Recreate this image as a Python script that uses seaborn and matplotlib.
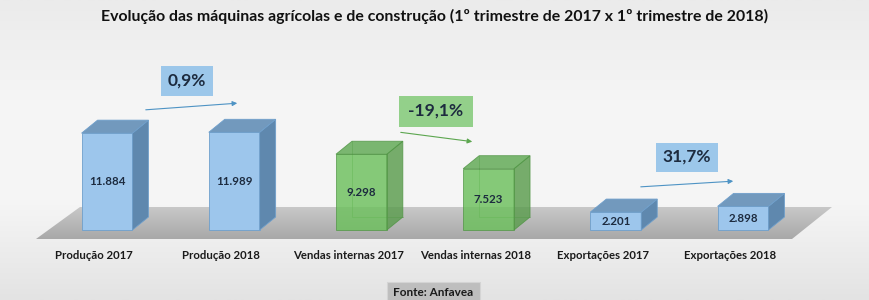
import numpy as np
import matplotlib.pyplot as plt
import seaborn as sns
from matplotlib.colors import LinearSegmentedColormap
from matplotlib.patches import Polygon, Rectangle, FancyArrowPatch
from matplotlib.transforms import ScaledTranslation

# data
categories = ['Produção 2017', 'Produção 2018', 'Vendas internas 2017',
              'Vendas internas 2018', 'Exportações 2017', 'Exportações 2018']
values = [11884, 11989, 9298, 7523, 2201, 2898]
groups = ['blue', 'blue', 'green', 'green', 'blue', 'blue']
pairs = [(0, 1), (2, 3), (4, 5)]
title = 'Evolução das máquinas agrícolas e de construção (1º trimestre de 2017 x 1º trimestre de 2018)'
source = 'Fonte: Anfavea'

# styles
styles = {
    'blue': dict(front='#9dc6ec', top='#7299bd', side='#5f88ae', edge='#6f9fcb', alpha=1.0,
                 box='#9cc7ea', arrow='#4e93c4'),
    'green': dict(front='#6cc05c', top='#5fa953', side='#5a9c4d', edge='#4f9443', alpha=0.82,
                  box='#93d08a', arrow='#5ca64f'),
}
txt_dark = '#1d2b3f'

# layout (pixels of the 870x300 picture)
W, H = 870, 300
X0, DX = 107, 127.2     # x of first bar centre, distance between bars
Y0, SY = 230, 122.7     # row of value 0, units per pixel
DEPTH = (16, 13)
AX_BOTTOM = 246
box_px = [(187, 81, 52, 30), (436, 111, 74, 31), (687, 157, 62, 29)]
arrow_px = [((143, 110), (240, 103)), ((398, 132), (475, 142)), ((638, 187), (736, 181))]
floor_px = [(80, 207), (832, 207), (792, 239), (36, 239)]


def xd(px):
    return (px - X0) / DX


def yd(py):
    return (Y0 - py) * SY


def fx(px):
    return px / W


def fy(py):
    return 1 - py / H


sns.set_theme(style='white')
plt.rcParams['font.family'] = ['Lato', 'DejaVu Sans']

fig = plt.figure(figsize=(W / 100, H / 100), dpi=100)

# background gradient
bg = fig.add_axes([0, 0, 1, 1], zorder=0)
grad = np.linspace(0, 1, 256).reshape(-1, 1)
bg_cmap = LinearSegmentedColormap.from_list('bg', ['#ebebeb', '#f5f5f5', '#f6f6f6', '#e3e3e3'])
bg.imshow(grad, aspect='auto', cmap=bg_cmap, extent=[0, 1, 0, 1], origin='upper')
bg.set_axis_off()

ax = fig.add_axes([0, 1 - AX_BOTTOM / H, 1, AX_BOTTOM / H], zorder=1)
ax.patch.set_alpha(0)

sns.barplot(x=categories, y=values, hue=categories,
            palette=[styles[g]['front'] for g in groups],
            width=0.4, saturation=1, legend=False, ax=ax, zorder=3)
bars = list(ax.patches)

# floor
floor = Polygon([(xd(a), yd(b)) for a, b in floor_px], closed=True, fc='none', ec='none')
ax.add_patch(floor)
floor_cmap = LinearSegmentedColormap.from_list('floor', ['#c8c8c8', '#a8a8a8'])
im = ax.imshow(grad, aspect='auto', cmap=floor_cmap, origin='upper', zorder=1,
               extent=[xd(36), xd(832), yd(239), yd(207)])
im.set_clip_path(floor)

# 3d faces + value labels
ddx, ddy = DEPTH[0] / DX, DEPTH[1] * SY
for bar, g, v in zip(bars, groups, values):
    s = styles[g]
    x0 = bar.get_x()
    x1 = x0 + bar.get_width()
    h = bar.get_height()
    bar.set_facecolor(s['front'])
    bar.set_edgecolor(s['edge'])
    bar.set_linewidth(0.6)
    bar.set_alpha(s['alpha'])
    top = Polygon([(x0, h), (x1, h), (x1 + ddx, h + ddy), (x0 + ddx, h + ddy)],
                  fc=s['top'], ec=s['edge'], lw=0.6, alpha=s['alpha'], zorder=3)
    side = Polygon([(x1, 0), (x1 + ddx, ddy), (x1 + ddx, h + ddy), (x1, h)],
                   fc=s['side'], ec=s['edge'], lw=0.6, alpha=s['alpha'], zorder=3)
    ax.add_patch(side)
    ax.add_patch(top)
    if s['alpha'] < 1:
        ax.plot([x0 + ddx, x0 + ddx, x1 + ddx], [h + ddy, ddy, ddy],
                color=s['edge'], lw=0.6, alpha=0.6, zorder=2.9)
    ax.text((x0 + x1) / 2, h / 2, f'{v:,}'.replace(',', '.'), ha='center', va='center',
            fontsize=8.3, fontweight='bold', color=txt_dark, zorder=5)

ax.set_xlim(xd(0), xd(W))
ax.set_ylim(yd(AX_BOTTOM), yd(0))
ax.set_yticks([])
ax.set_xlabel('')
ax.set_ylabel('')
ax.set_xticks(range(len(categories)))
ax.set_xticklabels(categories, fontsize=8.2, fontweight='bold', color='#1a1a1a')
ax.tick_params(axis='x', length=0, pad=3)
shift = ScaledTranslation(-13 / 100, 0, fig.dpi_scale_trans)
for lbl in ax.get_xticklabels():
    lbl.set_transform(lbl.get_transform() + shift)
sns.despine(ax=ax, left=True, bottom=True)

# percent change boxes and arrows
for (a, b), (cx, cy, bw, bh), (p0, p1) in zip(pairs, box_px, arrow_px):
    s = styles[groups[a]]
    pct = (values[b] / values[a] - 1) * 100
    fig.add_artist(Rectangle((fx(cx - bw / 2), fy(cy + bh / 2)), bw / W, bh / H,
                             transform=fig.transFigure, fc=s['box'], ec='none', zorder=4))
    fig.text(fx(cx), fy(cy), f'{pct:.1f}%'.replace('.', ','), ha='center', va='center',
             fontsize=12.5, fontweight='bold', color=txt_dark, zorder=5)
    fig.add_artist(FancyArrowPatch((fx(p0[0]), fy(p0[1])), (fx(p1[0]), fy(p1[1])),
                                   transform=fig.transFigure, arrowstyle='-|>',
                                   mutation_scale=7, lw=0.8, color=s['arrow'], zorder=4))

# title and source
fig.text(0.5, fy(16), title, ha='center', va='center', fontsize=11.4,
         fontweight='bold', color='#111111')
fig.add_artist(Rectangle((fx(387), fy(306)), 93 / W, 24 / H, transform=fig.transFigure,
                         fc='#bebebe', ec='#d4d4d4', lw=0.8, zorder=4))
fig.text(fx(433), fy(292), source, ha='center', va='center', fontsize=8.5,
         fontweight='bold', color='#1a1a1a', zorder=5)

fig.savefig('out.png', dpi=100)
